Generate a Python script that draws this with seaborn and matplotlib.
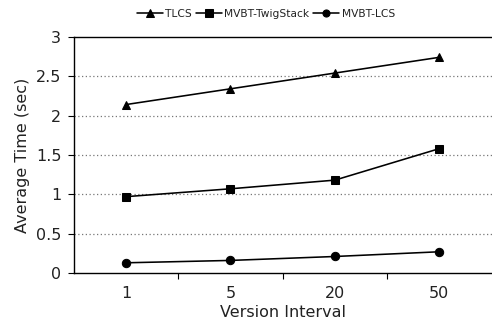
import pandas as pd
import matplotlib
matplotlib.use("Agg")
import matplotlib.pyplot as plt
import seaborn as sns

intervals = ["1", "5", "20", "50"]
tlcs = [2.14, 2.34, 2.54, 2.74]
mvbt_twigstack = [0.97, 1.07, 1.18, 1.58]
mvbt_lcs = [0.13, 0.16, 0.21, 0.27]

series_names = ["TLCS", "MVBT-TwigStack", "MVBT-LCS"]
series_values = [tlcs, mvbt_twigstack, mvbt_lcs]

rows = []
for name, vals in zip(series_names, series_values):
    for x, v in zip(intervals, vals):
        rows.append({"interval": x, "time": v, "serie": name})
df = pd.DataFrame(rows)

sns.set_theme(style="white")
plt.rcParams["font.family"] = ["DejaVu Sans"]
plt.rcParams["text.color"] = "#222222"
plt.rcParams["axes.labelcolor"] = "#222222"
plt.rcParams["xtick.color"] = "#222222"
plt.rcParams["ytick.color"] = "#222222"

fig = plt.figure(figsize=(4.92, 3.35), dpi=100)
ax = fig.add_axes([0.150, 0.185, 0.849, 0.705])

sns.lineplot(
    data=df, x="interval", y="time", hue="serie", style="serie",
    palette=["black"] * 3, markers=["^", "s", "o"], dashes=False,
    markersize=6, linewidth=1.15, markeredgecolor="black", sort=False,
    ax=ax,
)

ax.set_xlim(-0.5, 3.5)
ax.set_ylim(0, 3)
ax.set_yticks([0, 0.5, 1, 1.5, 2, 2.5, 3])
ax.set_yticklabels(["0", "0.5", "1", "1.5", "2", "2.5", "3"])
for y in [0.5, 1, 1.5, 2, 2.5]:
    ax.axhline(y, color="#777777", linestyle=(0, (1, 2)), linewidth=0.9, zorder=0)

ax.set_xticks([0, 1, 2, 3])
ax.set_xticklabels(intervals)
ax.set_xticks([0.5, 1.5, 2.5], minor=True)
ax.tick_params(axis="x", which="major", length=0, labelsize=11.5, pad=9)
ax.tick_params(axis="x", which="minor", length=4, width=0.8, color="black", direction="out", bottom=True)
ax.tick_params(axis="y", length=4, width=0.8, color="black", direction="out", left=True, labelsize=11.5, pad=5)

for side in ["left", "bottom", "top"]:
    ax.spines[side].set_color("black")
    ax.spines[side].set_linewidth(1.0)
ax.spines["right"].set_visible(False)

ax.set_xlabel("Version Interval", fontsize=11.5, labelpad=3)
ax.set_ylabel("Average Time (sec)", fontsize=11.5, labelpad=4)

ax.legend(
    loc="upper center", bbox_to_anchor=(0.5 - 0.150 / 2 + 0.035, 1.16), ncol=3,
    frameon=False, fontsize=7.7, handlelength=2.4, columnspacing=0.35,
    handletextpad=0.25, markerscale=0.85,
)

fig.savefig("out.png", dpi=100)
